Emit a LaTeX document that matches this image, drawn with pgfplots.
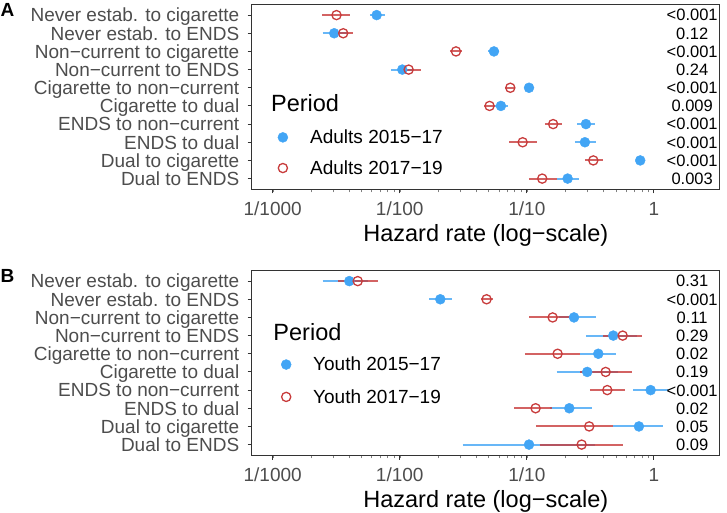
\documentclass[border=0pt]{standalone}
\usepackage{fontspec}
\setmainfont{Liberation Sans}
\usepackage{pgfplots}
\usepackage{pgfplotstable}
\pgfplotsset{compat=1.18}
\definecolor{cblue}{RGB}{66,165,245}
\definecolor{cred}{RGB}{200,60,60}
\definecolor{gray30}{RGB}{77,77,77}
\definecolor{gray20}{RGB}{51,51,51}

% row  estimate  lower  upper
\pgfplotstableread{
y x lo hi
1 0.00658 0.00581 0.00762
2 0.00305 0.00247 0.00382
3 0.0551 0.0497 0.0607
4 0.01047 0.00853 0.0126
5 0.104 0.100 0.1084
6 0.0625 0.0562 0.0706
7 0.2917 0.2495 0.3436
8 0.2864 0.2388 0.3499
9 0.780 0.7396 0.8337
10 0.2094 0.1714 0.2582
}\adultsOld
\pgfplotstableread{
y x lo hi
1 0.00318 0.00245 0.00407
2 0.00359 0.00316 0.00426
3 0.0277 0.0248 0.0310
4 0.01175 0.0100 0.0146
5 0.0741 0.0673 0.0805
6 0.0509 0.0462 0.0562
7 0.161 0.1387 0.1875
8 0.0927 0.0728 0.1194
9 0.3334 0.2864 0.3945
10 0.1321 0.1038 0.1714
}\adultsNew
\pgfplotstableread{
y x lo hi
1 0.00401 0.00247 0.00562
2 0.02084 0.01706 0.02559
3 0.2350 0.1778 0.3499
4 0.4786 0.2917 0.7311
5 0.3648 0.2630 0.5023
6 0.2985 0.1714 0.5212
7 0.9419 0.6871 1.2972
8 0.2158 0.1514 0.3236
9 0.7621 0.4786 1.1695
10 0.1040 0.03126 0.3436
}\youthOld
\pgfplotstableread{
y x lo hi
1 0.00467 0.00328 0.0067
2 0.0482 0.04325 0.05445
3 0.1596 0.1045 0.2399
4 0.5675 0.3981 0.8091
5 0.1746 0.0966 0.2630
6 0.4169 0.2630 0.6745
7 0.4295 0.3133 0.5916
8 0.1172 0.0796 0.1585
9 0.3097 0.1180 0.4786
10 0.2698 0.1259 0.5741
}\youthNew

\newcommand{\sz}[1]{\fontsize{#1}{#1}\selectfont}

% one horizontal interval line per row of a table
\newcommand{\whiskers}[2]{%
  \pgfplotsinvokeforeach{0,...,9}{%
    \pgfplotstablegetelem{##1}{lo}\of#1\let\wlo\pgfplotsretval
    \pgfplotstablegetelem{##1}{hi}\of#1\let\whi\pgfplotsretval
    \pgfplotstablegetelem{##1}{y}\of#1\let\wy\pgfplotsretval
    \addplot[color=#2, line width=1.9pt, opacity=0.8, forget plot] coordinates {(\wlo,\wy) (\whi,\wy)};
  }%
}

\newcommand{\pval}[2]{\node[font=\sz{16.5}, inner sep=0pt, text height=11.8pt, text depth=0pt, anchor=center] at (axis cs:2,#1) {#2};}

\begin{document}
\begin{tikzpicture}
\path[use as bounding box] (0,0) rectangle (727pt,513pt);

\node[font=\bfseries\sz{19}, anchor=center] at (7.5pt,503pt) {A};
\node[font=\bfseries\sz{19}, anchor=center] at (7.5pt,237pt) {B};

% Panel A
\begin{axis}[
    at={(251.7pt,323.5pt)}, anchor=south west,
    scale only axis, width=468.3pt, height=185.3pt,
    xmode=log, xmin=6.84e-4, xmax=3.31,
    ymin=0.4, ymax=10.6, y dir=reverse,
    ytick={1,2,3,4,5,6,7,8,9,10},
    yticklabels={Never estab. to cigarette,Never estab. to ENDS,Non−current to cigarette,Non−current to ENDS,Cigarette to non−current,Cigarette to dual,ENDS to non−current,ENDS to dual,Dual to cigarette,Dual to ENDS},
    xtick={0.001,0.01,0.1,1}, xticklabels={1/1000,1/100,1/10,1},
    minor xtick={},
    tick align=outside, major tick length=4pt,
    xtick pos=bottom, ytick pos=left,
    axis line style={gray20, line width=1pt},
    major tick style={gray20, line width=1pt},
    yticklabel style={font=\sz{19}, text=gray30, inner sep=0pt, text height=13.6pt, text depth=0pt, xshift=-8.2pt},
    xticklabel style={font=\sz{19}, text=gray30, inner sep=0pt, text height=13.6pt, text depth=0pt, yshift=-8.4pt},
    xlabel={Hazard rate (log−scale)},
    xlabel style={font=\sz{23.5}, inner sep=0pt, text height=16.8pt, text depth=0pt, anchor=center, at={(axis description cs:0.5,0)}, yshift=-43.3pt},
    clip=false,
    legend cell align=left,
    legend style={at={(axis description cs:0.0555,0.1985)}, anchor=west, draw=none, fill=none,
      inner sep=0pt, row sep=11.4pt, column sep=20.3pt, font=\sz{19}},
  ]
\whiskers{\adultsOld}{cblue}
\whiskers{\adultsNew}{cred}
\addplot[only marks, mark=*, mark size=5pt, color=cblue] table[x=x, y=y] {\adultsOld};
\addlegendentry{Adults 2015−17}
\addplot[only marks, mark=o, mark size=4.6pt, color=cred, line width=1.3pt] table[x=x, y=y] {\adultsNew};
\addlegendentry{Adults 2017−19}
\pval{1}{<0.001}
\pval{2}{0.12}
\pval{3}{<0.001}
\pval{4}{0.24}
\pval{5}{<0.001}
\pval{6}{0.009}
\pval{7}{<0.001}
\pval{8}{<0.001}
\pval{9}{<0.001}
\pval{10}{0.003}
\node[font=\sz{23.5}, inner sep=0pt, text height=16.8pt, text depth=0pt, anchor=west] at (axis description cs:0.041,0.464) {Period};
\end{axis}

% Panel B
\begin{axis}[
    at={(251.7pt,57.5pt)}, anchor=south west,
    scale only axis, width=468.3pt, height=185.3pt,
    xmode=log, xmin=6.84e-4, xmax=3.31,
    ymin=0.4, ymax=10.6, y dir=reverse,
    ytick={1,2,3,4,5,6,7,8,9,10},
    yticklabels={Never estab. to cigarette,Never estab. to ENDS,Non−current to cigarette,Non−current to ENDS,Cigarette to non−current,Cigarette to dual,ENDS to non−current,ENDS to dual,Dual to cigarette,Dual to ENDS},
    xtick={0.001,0.01,0.1,1}, xticklabels={1/1000,1/100,1/10,1},
    minor xtick={},
    tick align=outside, major tick length=4pt,
    xtick pos=bottom, ytick pos=left,
    axis line style={gray20, line width=1pt},
    major tick style={gray20, line width=1pt},
    yticklabel style={font=\sz{19}, text=gray30, inner sep=0pt, text height=13.6pt, text depth=0pt, xshift=-8.2pt},
    xticklabel style={font=\sz{19}, text=gray30, inner sep=0pt, text height=13.6pt, text depth=0pt, yshift=-8.4pt},
    xlabel={Hazard rate (log−scale)},
    xlabel style={font=\sz{23.5}, inner sep=0pt, text height=16.8pt, text depth=0pt, anchor=center, at={(axis description cs:0.5,0)}, yshift=-43.3pt},
    clip=false,
    legend cell align=left,
    legend style={at={(axis description cs:0.0626,0.4035)}, anchor=west, draw=none, fill=none,
      inner sep=0pt, row sep=13.1pt, column sep=20pt, font=\sz{19}},
  ]
\whiskers{\youthOld}{cblue}
\whiskers{\youthNew}{cred}
\addplot[only marks, mark=*, mark size=5pt, color=cblue] table[x=x, y=y] {\youthOld};
\addlegendentry{Youth 2015−17}
\addplot[only marks, mark=o, mark size=4.6pt, color=cred, line width=1.3pt] table[x=x, y=y] {\youthNew};
\addlegendentry{Youth 2017−19}
\pval{1}{0.31}
\pval{2}{<0.001}
\pval{3}{0.11}
\pval{4}{0.29}
\pval{5}{0.02}
\pval{6}{0.19}
\pval{7}{<0.001}
\pval{8}{0.02}
\pval{9}{0.05}
\pval{10}{0.09}
\node[font=\sz{23.5}, inner sep=0pt, text height=16.8pt, text depth=0pt, anchor=west] at (axis description cs:0.0461,0.666) {Period};
\end{axis}
\end{tikzpicture}
\end{document}
